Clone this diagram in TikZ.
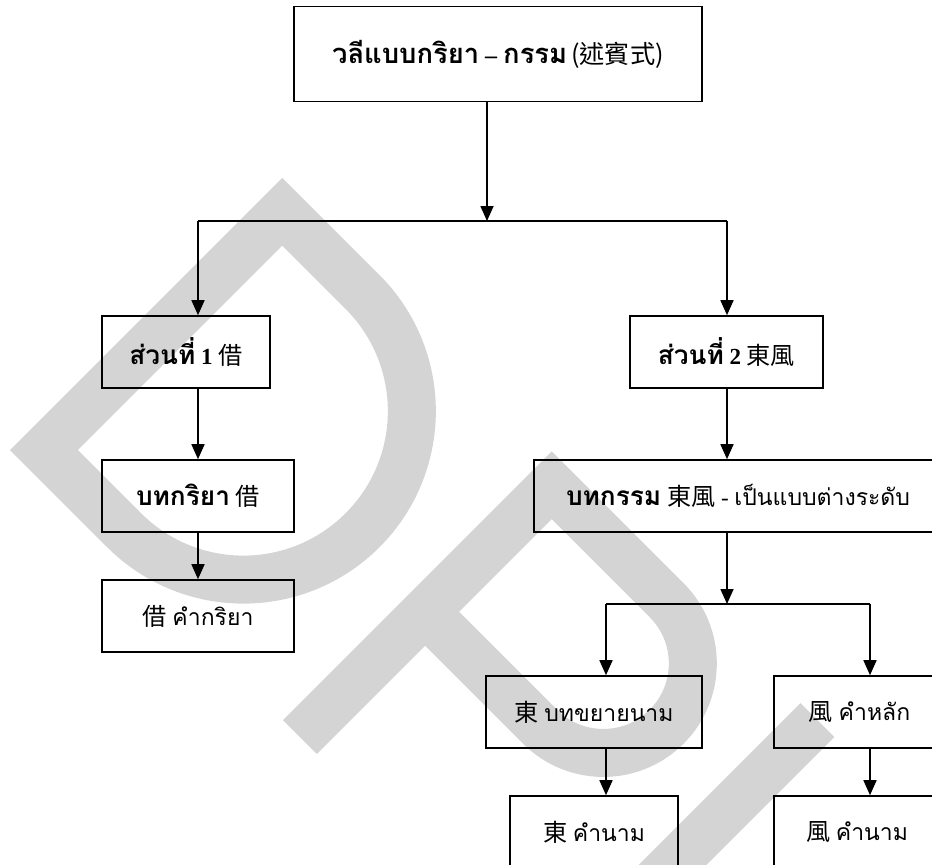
\documentclass[tikz,border=0pt]{standalone}
\usepackage{fontspec}
\setmainfont{Liberation Serif}
\newfontfamily\thai[Script=Thai]{Loma}
\newfontfamily\thaibf[Script=Thai,Scale=1.14]{Loma}
\newfontfamily\cjk[Scale=1.05]{Noto Sans CJK TC}
\usetikzlibrary{arrows.meta}

% text helpers: bold Thai, regular Thai, CJK
\newcommand\tb[1]{{\thaibf\bfseries #1}}
\newcommand\tr[1]{{\thai #1}}
\newcommand\cj[1]{{\cjk #1}}

\begin{document}
\begin{tikzpicture}[x=1pt,y=-1pt,
  box/.style={draw, line width=1.6pt, minimum height=72pt, inner sep=0pt,
              font=\fontsize{23}{27}\selectfont},
  arr/.style={line width=1.6pt, -{Triangle[width=13pt,length=15pt]}},
  link/.style={line width=1.6pt},
  wmark/.style={line width=48pt, draw=black!17, line join=miter, line cap=butt}]

\useasboundingbox (0,0) rectangle (932,865);
\clip (0,0) rectangle (932,865);

% background watermark letters
\begin{scope}[shift={(10,450)}, rotate=45]
  \draw[wmark] (24,24) -- (361,24) -- (361,137.5)
    .. controls (361,230.56) and (285.56,306) .. (192.5,306)
    .. controls (99.44,306) and (24,230.56) .. (24,137.5) -- cycle;
\end{scope}
\begin{scope}[shift={(283,720)}, rotate=45]
  \draw[wmark] (0,24) -- (356,24) -- (356,186.5)
    .. controls (356,235.93) and (315.93,276) .. (266.5,276)
    .. controls (217.07,276) and (177,235.93) .. (177,186.5) -- (177,24);
\end{scope}
\draw[wmark] (817.5,720) -- ++(-220,220);

% boxes
\node[box, minimum width=408pt, minimum height=95pt, font=\fontsize{24}{28}\selectfont]
  (top) at (498,54) {\tb{วลีแบบกริยา} {\bfseries –} \tb{กรรม}\,\cj{(述賓式)}};
\node[box, minimum width=168pt] (p1) at (186,352) {\tb{ส่วนที่} \textbf{1} \cj{借}};
\node[box, minimum width=193pt] (p2) at (726.5,352) {\tb{ส่วนที่} \textbf{2} \cj{東風}};
\node[box, minimum width=192pt] (v1) at (198,496) {\tb{บทกริยา} \cj{借}};
\node[box, minimum width=192pt] (v2) at (198,616) {\cj{借} \tr{คำกริยา}};
\node[box, minimum width=408pt] (o1) at (738,496)
  {\tb{บทกรรม} \cj{東風} - \tr{เป็นแบบต่างระดับ}};
\node[box, minimum width=216pt] (m1) at (594,712) {\cj{東} \tr{บทขยายนาม}};
\node[box, minimum width=171pt] (h1) at (859.5,712) {\cj{風} \tr{คำหลัก}};
\node[box, minimum width=168pt] (n1) at (594,832) {\cj{東} \tr{คำนาม}};
\node[box, minimum width=166pt] (n2) at (857,832) {\cj{風} \tr{คำนาม}};

% junction points
\coordinate (j0) at (487,221);
\coordinate (jl) at (198,221);
\coordinate (jr) at (727,221);
\coordinate (k0) at (727,604);
\coordinate (kl) at (606,604);
\coordinate (kr) at (870,604);

% connectors
\draw[arr] (j0 |- top.south) -- (j0);
\draw[link] (jl) -- (jr);
\draw[arr] (jl) -- (jl |- p1.north);
\draw[arr] (jr) -- (jr |- p2.north);
\draw[arr] (jl |- p1.south) -- (jl |- v1.north);
\draw[arr] (jl |- v1.south) -- (jl |- v2.north);
\draw[arr] (jr |- p2.south) -- (jr |- o1.north);
\draw[arr] (k0 |- o1.south) -- (k0);
\draw[link] (kl) -- (kr);
\draw[arr] (kl) -- (kl |- m1.north);
\draw[arr] (kr) -- (kr |- h1.north);
\draw[arr] (kl |- m1.south) -- (kl |- n1.north);
\draw[arr] (kr |- h1.south) -- (kr |- n2.north);
\end{tikzpicture}
\end{document}
